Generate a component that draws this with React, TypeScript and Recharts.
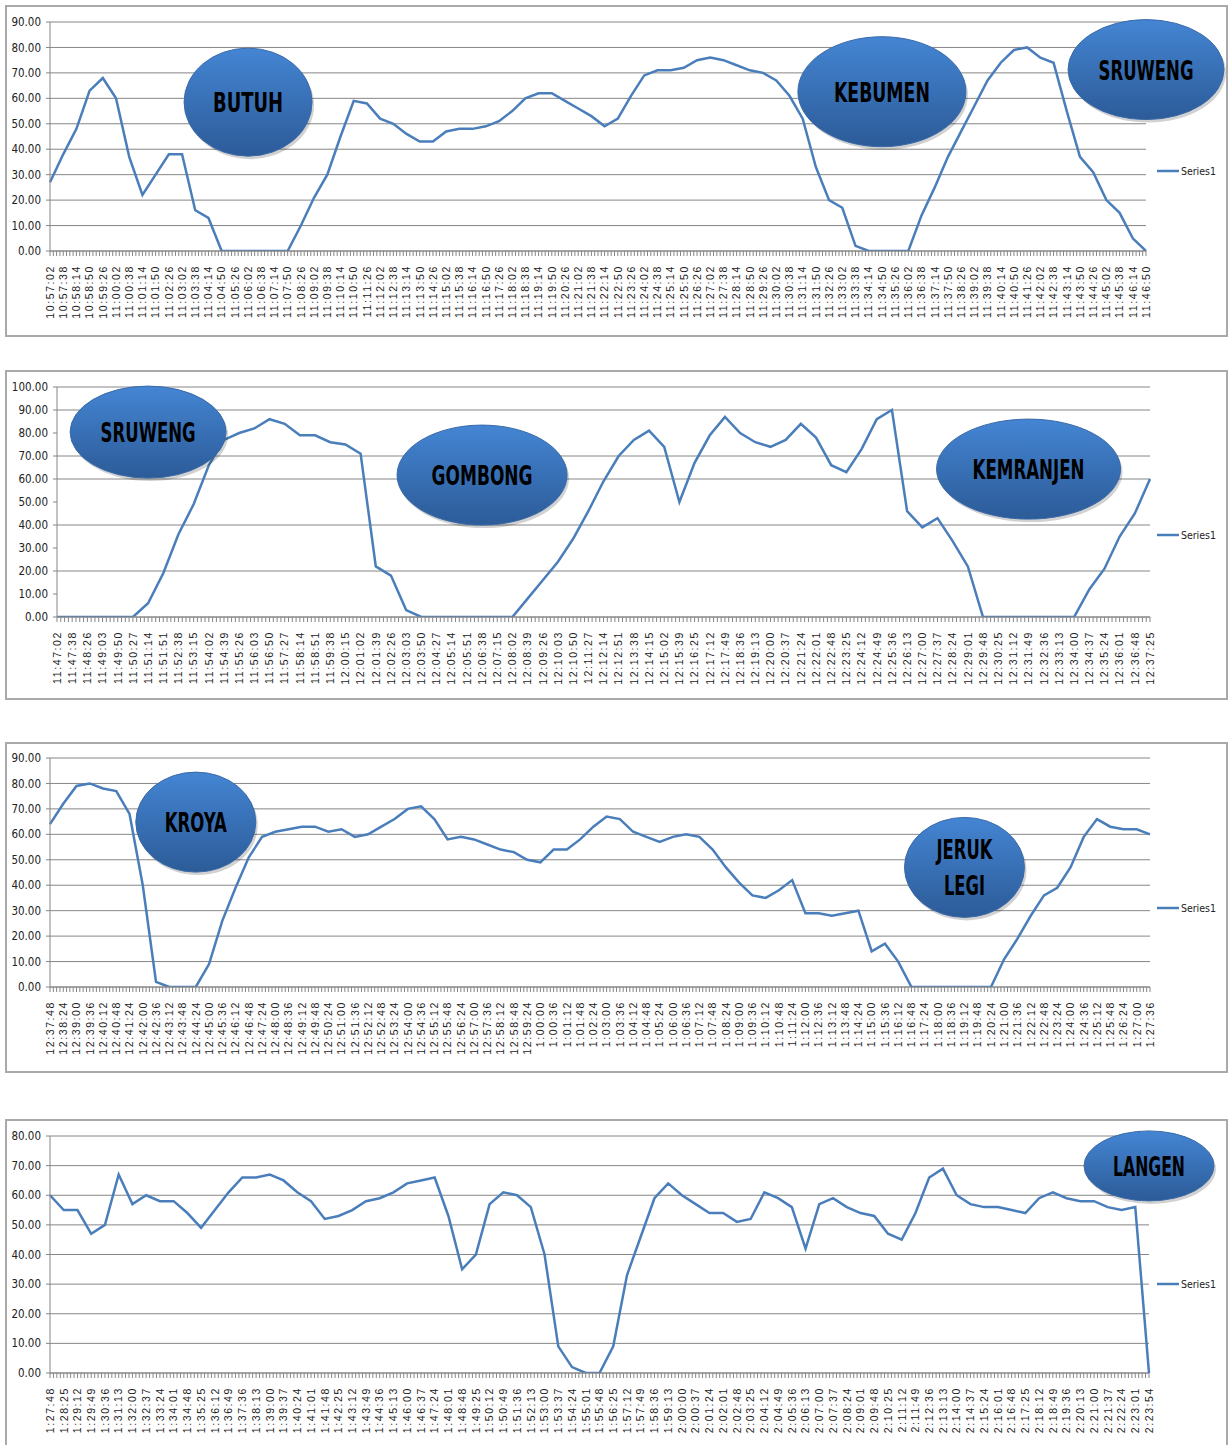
import React from "react";
import { LineChart, Line, XAxis, YAxis, CartesianGrid, ReferenceDot } from "recharts";

// Trip 1: Butuh - Kebumen - Sruweng
const times1 = ["10:57:02","10:57:38","10:58:14","10:58:50","10:59:26","11:00:02","11:00:38","11:01:14","11:01:50","11:02:26","11:03:02","11:03:38","11:04:14","11:04:50","11:05:26","11:06:02","11:06:38","11:07:14","11:07:50","11:08:26","11:09:02","11:09:38","11:10:14","11:10:50","11:11:26","11:12:02","11:12:38","11:13:14","11:13:50","11:14:26","11:15:02","11:15:38","11:16:14","11:16:50","11:17:26","11:18:02","11:18:38","11:19:14","11:19:50","11:20:26","11:21:02","11:21:38","11:22:14","11:22:50","11:23:26","11:24:02","11:24:38","11:25:14","11:25:50","11:26:26","11:27:02","11:27:38","11:28:14","11:28:50","11:29:26","11:30:02","11:30:38","11:31:14","11:31:50","11:32:26","11:33:02","11:33:38","11:34:14","11:34:50","11:35:26","11:36:02","11:36:38","11:37:14","11:37:50","11:38:26","11:39:02","11:39:38","11:40:14","11:40:50","11:41:26","11:42:02","11:42:38","11:43:14","11:43:50","11:44:26","11:45:02","11:45:38","11:46:14","11:46:50"];
const speed1 = [27,38,48,63,68,60,37,22,30,38,38,16,13,0,0,0,0,0,0,10,21,30,45,59,58,52,50,46,43,43,47,48,48,49,51,55,60,62,62,59,56,53,49,52,61,69,71,71,72,75,76,75,73,71,70,67,61,52,33,20,17,2,0,0,0,0,14,25,37,47,57,67,74,79,80,76,74,55,37,31,20,15,5,0];

// Trip 2: Sruweng - Gombong - Kemranjen
const times2 = ["11:47:02","11:47:38","11:48:26","11:49:03","11:49:50","11:50:27","11:51:14","11:51:51","11:52:38","11:53:15","11:54:02","11:54:39","11:55:26","11:56:03","11:56:50","11:57:27","11:58:14","11:58:51","11:59:38","12:00:15","12:01:02","12:01:39","12:02:26","12:03:03","12:03:50","12:04:27","12:05:14","12:05:51","12:06:38","12:07:15","12:08:02","12:08:39","12:09:26","12:10:03","12:10:50","12:11:27","12:12:14","12:12:51","12:13:38","12:14:15","12:15:02","12:15:39","12:16:25","12:17:12","12:17:49","12:18:36","12:19:13","12:20:00","12:20:37","12:21:24","12:22:01","12:22:48","12:23:25","12:24:12","12:24:49","12:25:36","12:26:13","12:27:00","12:27:37","12:28:24","12:29:01","12:29:48","12:30:25","12:31:12","12:31:49","12:32:36","12:33:13","12:34:00","12:34:37","12:35:24","12:36:01","12:36:48","12:37:25"];
const speed2 = [0,0,0,0,0,0,6,19,36,49,66,77,80,82,86,84,79,79,76,75,71,22,18,3,0,0,0,0,0,0,0,8,16,24,34,46,59,70,77,81,74,50,67,79,87,80,76,74,77,84,78,66,63,73,86,90,46,39,43,33,22,0,0,0,0,0,0,0,12,21,35,45,60];

// Trip 3: Kroya - Jeruk Legi
const times3 = ["12:37:48","12:38:24","12:39:00","12:39:36","12:40:12","12:40:48","12:41:24","12:42:00","12:42:36","12:43:12","12:43:48","12:44:24","12:45:00","12:45:36","12:46:12","12:46:48","12:47:24","12:48:00","12:48:36","12:49:12","12:49:48","12:50:24","12:51:00","12:51:36","12:52:12","12:52:48","12:53:24","12:54:00","12:54:36","12:55:12","12:55:48","12:56:24","12:57:00","12:57:36","12:58:12","12:58:48","12:59:24","1:00:00","1:00:36","1:01:12","1:01:48","1:02:24","1:03:00","1:03:36","1:04:12","1:04:48","1:05:24","1:06:00","1:06:36","1:07:12","1:07:48","1:08:24","1:09:00","1:09:36","1:10:12","1:10:48","1:11:24","1:12:00","1:12:36","1:13:12","1:13:48","1:14:24","1:15:00","1:15:36","1:16:12","1:16:48","1:17:24","1:18:00","1:18:36","1:19:12","1:19:48","1:20:24","1:21:00","1:21:36","1:22:12","1:22:48","1:23:24","1:24:00","1:24:36","1:25:12","1:25:48","1:26:24","1:27:00","1:27:36"];
const speed3 = [64,72,79,80,78,77,68,40,2,0,0,0,9,26,39,51,59,61,62,63,63,61,62,59,60,63,66,70,71,66,58,59,58,56,54,53,50,49,54,54,58,63,67,66,61,59,57,59,60,59,54,47,41,36,35,38,42,29,29,28,29,30,14,17,10,0,0,0,0,0,0,0,11,19,28,36,39,47,59,66,63,62,62,60];

// Trip 4: Langen
const times4 = ["1:27:48","1:28:25","1:29:12","1:29:49","1:30:36","1:31:13","1:32:00","1:32:37","1:33:24","1:34:01","1:34:48","1:35:25","1:36:12","1:36:49","1:37:36","1:38:13","1:39:00","1:39:37","1:40:24","1:41:01","1:41:48","1:42:25","1:43:12","1:43:49","1:44:36","1:45:13","1:46:00","1:46:37","1:47:24","1:48:01","1:48:48","1:49:25","1:50:12","1:50:49","1:51:36","1:52:13","1:53:00","1:53:37","1:54:24","1:55:01","1:55:48","1:56:25","1:57:12","1:57:49","1:58:36","1:59:13","2:00:00","2:00:37","2:01:24","2:02:01","2:02:48","2:03:25","2:04:12","2:04:49","2:05:36","2:06:13","2:07:00","2:07:37","2:08:24","2:09:01","2:09:48","2:10:25","2:11:12","2:11:49","2:12:36","2:13:13","2:14:00","2:14:37","2:15:24","2:16:01","2:16:48","2:17:25","2:18:12","2:18:49","2:19:36","2:20:13","2:21:00","2:21:37","2:22:24","2:23:01","2:23:54"];
const speed4 = [60,55,55,47,50,67,57,60,58,58,54,49,55,61,66,66,67,65,61,58,52,53,55,58,59,61,64,65,66,53,35,40,57,61,60,56,40,9,2,0,0,9,33,46,59,64,60,57,54,54,51,52,61,59,56,42,57,59,56,54,53,47,45,54,66,69,60,57,56,56,55,54,59,61,59,58,58,56,55,56,0];

const ticks90 = [0, 10, 20, 30, 40, 50, 60, 70, 80, 90];
const ticks100 = [0, 10, 20, 30, 40, 50, 60, 70, 80, 90, 100];
const ticks80 = [0, 10, 20, 30, 40, 50, 60, 70, 80];

const lineColor = "#4a7ebb";
const gridColor = "#868686";
const narrow = "'DejaVu Sans Condensed', 'Liberation Sans Narrow', sans-serif";
const plain = "'Liberation Sans', Arial, sans-serif";
const chartWidth = 1223;

type Note = { idx: number; value: number; rx: number; ry: number; lines: string[]; widths: number[] };

const notes1: Note[] = [
  { idx: 15, value: 58.5, rx: 64, ry: 54, lines: ["BUTUH"], widths: [70] },
  { idx: 63, value: 62.6, rx: 84, ry: 55, lines: ["KEBUMEN"], widths: [96] },
  { idx: 83, value: 71.3, rx: 78, ry: 50, lines: ["SRUWENG"], widths: [95] },
];
const notes2: Note[] = [
  { idx: 6, value: 80.4, rx: 78, ry: 46, lines: ["SRUWENG"], widths: [95] },
  { idx: 28, value: 61.7, rx: 85, ry: 50, lines: ["GOMBONG"], widths: [101] },
  { idx: 64, value: 64.3, rx: 92, ry: 50, lines: ["KEMRANJEN"], widths: [112] },
];
const notes3: Note[] = [
  { idx: 11, value: 64.8, rx: 60, ry: 50, lines: ["KROYA"], widths: [62] },
  { idx: 69, value: 47, rx: 60, ry: 50, lines: ["JERUK", "LEGI"], widths: [56, 41] },
];
const notes4: Note[] = [{ idx: 80, value: 69.9, rx: 65, ry: 35, lines: ["LANGEN"], widths: [72] }];

const Bubble = ({ cx, cy, note, id }: { cx: number; cy: number; note: Note; id: string }) => {
  const n = note.lines.length;
  return (
    <g>
      <defs>
        <linearGradient id={id} x1="0" y1="0" x2="0" y2="1">
          <stop offset="0%" stopColor="#4485d3" />
          <stop offset="100%" stopColor="#2c5b98" />
        </linearGradient>
      </defs>
      <ellipse cx={cx + 2} cy={cy + 3} rx={note.rx} ry={note.ry} fill="rgba(0,0,0,0.18)" />
      <ellipse cx={cx} cy={cy} rx={note.rx} ry={note.ry} fill={`url(#${id})`} stroke="#3a6aa8" strokeWidth={1} />
      {note.lines.map((t, k) => (
        <text
          key={t}
          x={cx}
          y={cy + 10 + (k - (n - 1) / 2) * 36}
          textAnchor="middle"
          fontFamily={narrow}
          fontWeight="bold"
          fontSize={27}
          fill="#000"
          textLength={note.widths[k]}
          lengthAdjust="spacingAndGlyphs"
        >
          {t}
        </text>
      ))}
    </g>
  );
};

const makeTick = (step: number) => (props: any) => {
  const { x, y, payload, index, visibleTicksCount } = props;
  const axisY = y - 8;
  const marks = [];
  if (index < visibleTicksCount - 1) {
    for (let k = 1; k < 4; k++) {
      marks.push(
        <line key={k} x1={x + (k * step) / 4} x2={x + (k * step) / 4} y1={axisY} y2={axisY + 5} stroke={gridColor} strokeWidth={1} />
      );
    }
  }
  return (
    <g>
      {marks}
      <text
        transform={`translate(${x},${y + 6}) rotate(-90)`}
        textAnchor="end"
        dy="0.36em"
        fontFamily={plain}
        fontSize={10.5}
        letterSpacing={1.6}
        fill="#1a1a1a"
      >
        {payload.value}
      </text>
    </g>
  );
};

const LegendBox = ({ top, height }: { top: number; height: number }) => (
  <div
    style={{
      position: "absolute",
      right: 1231 - 1228 + 12,
      top: top + height / 2 - 7,
      height: 14,
      display: "flex",
      alignItems: "center",
      fontFamily: narrow,
      fontSize: 10.5,
      color: "#222",
    }}
  >
    <svg width={22} height={6}>
      <line x1={0} y1={3} x2={22} y2={3} stroke={lineColor} strokeWidth={2.5} />
    </svg>
    <span style={{ marginLeft: 2 }}>Series1</span>
  </div>
);

type PanelProps = {
  name: string;
  top: number;
  height: number;
  times: string[];
  speeds: number[];
  ticks: number[];
  yWidth: number;
  mTop: number;
  mRight: number;
  xHeight: number;
  notes: Note[];
};

const Panel = ({ name, top, height, times, speeds, ticks, yWidth, mTop, mRight, xHeight, notes }: PanelProps) => {
  const data = times.map((t, i) => ({ time: t, speed: speeds[i] }));
  const step = (chartWidth - yWidth - mRight) / (times.length - 1);
  const yMax = ticks[ticks.length - 1];
  return (
    <>
      <div
        style={{
          position: "absolute",
          left: 5,
          top,
          width: chartWidth,
          height,
          boxSizing: "border-box",
          border: "2px solid #a9a9a9",
        }}
      />
      <div style={{ position: "absolute", left: 5, top }}>
        <LineChart width={chartWidth} height={height} data={data} margin={{ top: mTop, right: mRight, bottom: 0, left: 0 }}>
          <CartesianGrid vertical={false} stroke={gridColor} strokeWidth={1} />
          <XAxis
            dataKey="time"
            scale="point"
            interval={0}
            height={xHeight}
            tickSize={5}
            tickMargin={3}
            axisLine={{ stroke: gridColor }}
            tickLine={{ stroke: gridColor }}
            tick={makeTick(step)}
          />
          <YAxis
            domain={[0, yMax]}
            ticks={ticks}
            width={yWidth}
            tickSize={4}
            tickMargin={5}
            axisLine={{ stroke: gridColor }}
            tickLine={{ stroke: gridColor }}
            tickFormatter={(v: number) => v.toFixed(2)}
            tick={{ fontFamily: narrow, fontSize: 11.5, fill: "#222" }}
            allowDataOverflow
          />
          <Line dataKey="speed" name="Series1" stroke={lineColor} strokeWidth={2.5} dot={false} type="linear" isAnimationActive={false} />
          {notes.map((nt, k) => (
            <ReferenceDot
              key={k}
              x={times[nt.idx]}
              y={nt.value}
              r={1}
              ifOverflow="visible"
              shape={(p: any) => <Bubble cx={p.cx} cy={p.cy} note={nt} id={`${name}-g${k}`} />}
            />
          ))}
        </LineChart>
      </div>
      <LegendBox top={top} height={height} />
    </>
  );
};

const App = () => (
  <div style={{ position: "absolute", left: 0, top: 0, width: 1231, height: 1445, background: "#fff", overflow: "hidden" }}>
    <Panel name="p1" top={5} height={332} times={times1} speeds={speed1} ticks={ticks90} yWidth={45} mTop={17} mRight={82} xHeight={86} notes={notes1} />
    <Panel name="p2" top={370} height={330} times={times2} speeds={speed2} ticks={ticks100} yWidth={52} mTop={17} mRight={78} xHeight={83} notes={notes2} />
    <Panel name="p3" top={742} height={331} times={times3} speeds={speed3} ticks={ticks90} yWidth={45} mTop={16} mRight={78} xHeight={86} notes={notes3} />
    <Panel name="p4" top={1119} height={330} times={times4} speeds={speed4} ticks={ticks80} yWidth={45} mTop={17} mRight={79} xHeight={76} notes={notes4} />
  </div>
);

export default App;
